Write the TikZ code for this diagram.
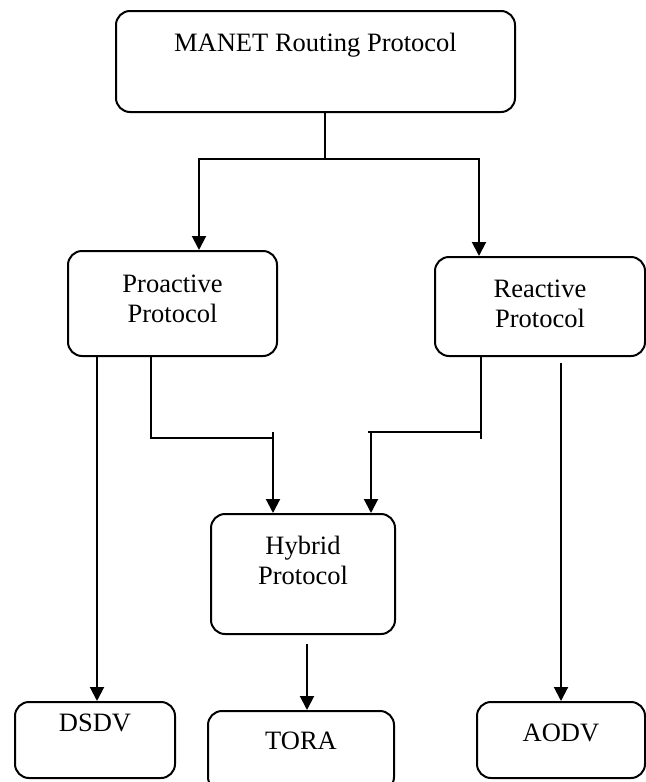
\documentclass[tikz,border=0pt]{standalone}
\usepackage{fontspec}
\setmainfont{Liberation Serif}
\usepackage{tikz}
\usetikzlibrary{arrows.meta}
\tikzset{
  blk/.style={draw,rounded corners=7pt,line width=1pt,inner sep=0pt,anchor=north,
    align=center,font=\fontsize{13.25}{15}\selectfont},
  arw/.style={-{Triangle[length=7pt,width=7pt]}}
}

\begin{document}
\begin{tikzpicture}[x=0.5pt,y=-0.5pt,line width=1pt]
\useasboundingbox (0,0) rectangle (646,782);
\node[blk,minimum width=199.5pt,text height=20pt,text depth=30.5pt] (manet) at (315.5,10) {MANET Routing Protocol};
\node[blk,minimum width=104.5pt,text height=35.5pt,text depth=17pt] (pro) at (172.5,250) {Proactive\\Protocol};
\node[blk,minimum width=105pt,text height=35pt,text depth=14.5pt] (rea) at (540,256) {Reactive\\Protocol};
\node[blk,minimum width=92pt,text height=35pt,text depth=25pt] (hyb) at (303,513) {Hybrid\\Protocol};
\node[blk,minimum width=80pt,text height=14.5pt,text depth=23.5pt] (dsdv) at (95,701) {DSDV};
\node[blk,minimum width=93pt,text height=19pt,text depth=21pt] (tora) at (301,710) {TORA};
\node[blk,minimum width=84pt,text height=19.5pt,text depth=18.5pt] (aodv) at (561,701) {AODV};
% split below the top box
\coordinate (fork) at (325,159);
\draw (manet.south -| fork) -- (fork);
\draw[arw] (fork) -| (pro.north -| 199,0);
\draw[arw] (fork) -| (rea.north -| 479,0);
% proactive branches
\draw[arw] (pro.south -| 97,0) -- (dsdv.north -| 97,0);
\draw (pro.south -| 151,0) |- (273,438);
\draw[arw] (273,432) -- (hyb.north -| 273,0);
% reactive branches
\draw (rea.south -| 481,0) -- (481,439);
\draw (481,432) -- (368,432);
\draw[arw] (371,432) -- (hyb.north -| 371,0);
\draw[arw] ([yshift=-3pt]rea.south -| aodv.north) -- (aodv.north);
% hybrid
\draw[arw] ([yshift=-4.5pt]hyb.south -| 307,0) -- (tora.north -| 307,0);
\end{tikzpicture}
\end{document}
